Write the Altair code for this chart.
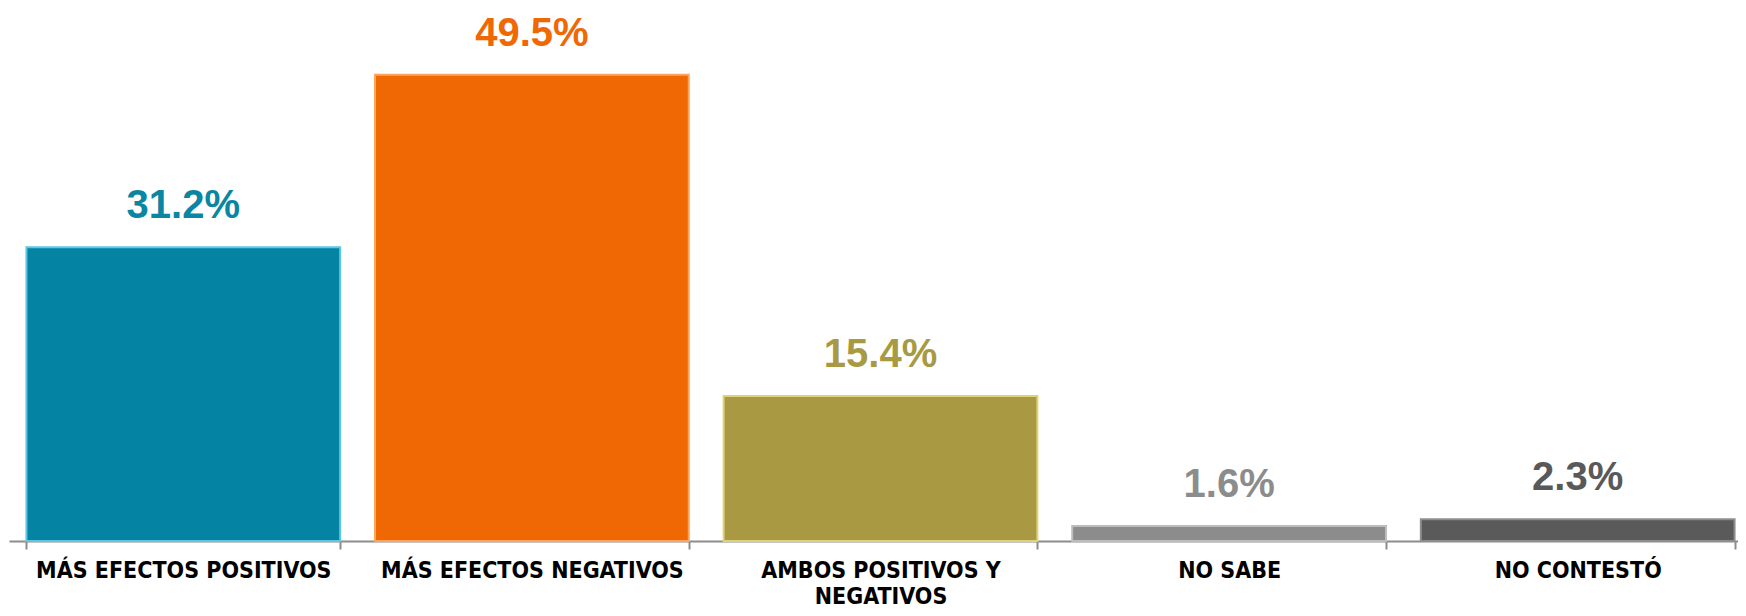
import altair as alt
import pandas as pd

categories = ["MÁS EFECTOS POSITIVOS", "MÁS EFECTOS NEGATIVOS",
              "AMBOS POSITIVOS Y NEGATIVOS", "NO SABE", "NO CONTESTÓ"]
values = [31.2, 49.5, 15.4, 1.6, 2.3]
bar_colors = ["#0483A3", "#F06803", "#A89942", "#8C8C8C", "#5A5A5A"]
edge_colors = ["#5CC8E6", "#FFA45A", "#E0D27A", "#BDBDBD", "#8E8E8E"]
label_colors = ["#0A86A3", "#F06803", "#A89A42", "#8C8C8C", "#595959"]

df = pd.DataFrame({
    "cat": categories,
    "val": values,
    "color": bar_colors,
    "edge": edge_colors,
    "lcolor": label_colors,
    "label": [f"{v:.1f}%" for v in values],
})

label_font = "Liberation Sans Narrow, DejaVu Sans Condensed, Liberation Sans, sans-serif"

x_scale = alt.Scale(paddingInner=0.1, paddingOuter=0.05, range=[0, 1743])

x = alt.X(
    "cat:N",
    sort=categories,
    scale=x_scale,
    axis=alt.Axis(
        title=None,
        labelAngle=0,
        labelFont=label_font,
        labelFontSize=23,
        labelFontWeight="bold",
        labelColor="#000000",
        labelPadding=10,
        labelLimit=0,
        labelLineHeight=26,
        labelExpr="datum.label == 'AMBOS POSITIVOS Y NEGATIVOS' ? ['AMBOS POSITIVOS Y', 'NEGATIVOS'] : datum.label",
        domainColor="#8C8C8C",
        domainWidth=2,
        tickColor="#8C8C8C",
        tickWidth=2,
        tickSize=8,
        tickBand="extent",
    ),
)
y = alt.Y("val:Q", scale=alt.Scale(domain=[0, 56.6], nice=False), axis=None)

base = alt.Chart(df)

bars = base.mark_bar(strokeWidth=2).encode(
    x=x,
    y=y,
    color=alt.Color("color:N", scale=None),
    stroke=alt.Stroke("edge:N", scale=None),
)

texts = base.mark_text(
    baseline="alphabetic",
    dy=-29,
    fontSize=40,
    font="Liberation Sans, Arial, sans-serif",
    fontWeight="bold",
).encode(
    x=alt.X("cat:N", sort=categories, scale=x_scale),
    y=y,
    text="label:N",
    color=alt.Color("lcolor:N", scale=None),
)

chart = (
    (bars + texts)
    .properties(
        width=1729,
        height=533,
        autosize=alt.AutoSizeParams(type="none"),
        padding={"left": 1, "top": 0, "right": 0, "bottom": 67},
        view=alt.ViewBackground(strokeWidth=0, strokeOpacity=0, stroke="transparent"),
    )
    .configure_view(stroke="transparent", strokeWidth=0, strokeOpacity=0)
    .configure(background="#FFFFFF")
)

chart.save("out.html", embed_options={"renderer": "svg", "actions": False})
